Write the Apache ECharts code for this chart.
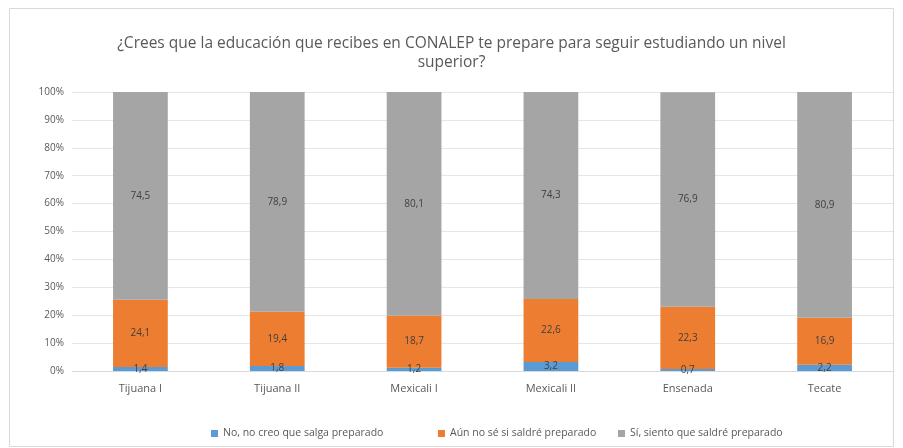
<!DOCTYPE html>
<html lang="es">
<head>
    <meta charset="UTF-8">
    <title>CONALEP</title>
    <script src="https://cdn.jsdelivr.net/npm/echarts@6/dist/echarts.min.js"></script>
    <style>
        html, body { margin: 0; padding: 0; background: #fff; }
    </style>
</head>
<body>
<div id="chart" style="width: 903px; height: 448px;"></div>
<script>
    var planteles = ['Tijuana I', 'Tijuana II', 'Mexicali I', 'Mexicali II', 'Ensenada', 'Tecate'];
    var noPreparado = [1.4, 1.8, 1.2, 3.2, 0.7, 2.2];
    var aunNoSe = [24.1, 19.4, 18.7, 22.6, 22.3, 16.9];
    var siPreparado = [74.5, 78.9, 80.1, 74.3, 76.9, 80.9];
    var yTicks = [0, 10, 20, 30, 40, 50, 60, 70, 80, 90, 100];
    var nombres = ['No, no creo que salga preparado', 'Aún no sé si saldré preparado', 'Sí, siento que saldré preparado'];

    var fuente = '"Open Sans", "Noto Sans", sans-serif';

    // etiqueta con coma decimal
    function coma(p) {
        return String(p.value).replace('.', ',');
    }

    function serie(nombre, datos, color) {
        return {
            name: nombre,
            type: 'bar',
            stack: 'total',
            barWidth: '40%',
            data: datos,
            itemStyle: {color: color},
            label: {
                show: true,
                position: 'inside',
                formatter: coma,
                color: '#404040',
                fontSize: 10,
                fontFamily: fuente
            }
        };
    }

    // una leyenda por elemento, como en Excel
    function leyenda(nombre, x) {
        return {
            left: x,
            top: 423,
            itemWidth: 7,
            itemHeight: 7,
            itemGap: 4,
            icon: 'rect',
            textStyle: {fontFamily: fuente, fontSize: 10.5, color: '#595959'},
            data: [nombre]
        };
    }

    var chart = echarts.init(document.getElementById('chart'));
    chart.setOption({
        animation: false,
        title: {
            text: '¿Crees que la educación que recibes en CONALEP te prepare para seguir estudiando un nivel\nsuperior?',
            left: 'center',
            top: 29,
            textStyle: {
                fontFamily: fuente,
                fontSize: 15.5,
                fontWeight: 'normal',
                color: '#595959',
                lineHeight: 19
            }
        },
        graphic: [{
            type: 'rect',
            shape: {x: 9.5, y: 8.5, width: 884, height: 438},
            style: {fill: 'none', stroke: '#d9d9d9', lineWidth: 1},
            silent: true
        }],
        legend: [
            leyenda(nombres[0], 206),
            leyenda(nombres[1], 433),
            leyenda(nombres[2], 613)
        ],
        grid: {left: 72, right: 10, top: 92, bottom: 77},
        xAxis: {
            type: 'category',
            data: planteles,
            axisTick: {show: false},
            axisLine: {lineStyle: {color: '#d9d9d9'}},
            axisLabel: {fontFamily: fuente, fontSize: 11, color: '#595959', margin: 12}
        },
        yAxis: {
            type: 'value',
            min: yTicks[0],
            max: yTicks[yTicks.length - 1],
            interval: 10,
            axisLabel: {
                fontFamily: fuente,
                fontSize: 10,
                color: '#595959',
                margin: 8,
                formatter: '{value}%'
            },
            splitLine: {lineStyle: {color: '#e6e6e6'}}
        },
        series: [
            serie(nombres[0], noPreparado, '#5B9BD5'),
            serie(nombres[1], aunNoSe, '#ED7D31'),
            serie(nombres[2], siPreparado, '#A5A5A5')
        ]
    });
</script>
</body>
</html>
